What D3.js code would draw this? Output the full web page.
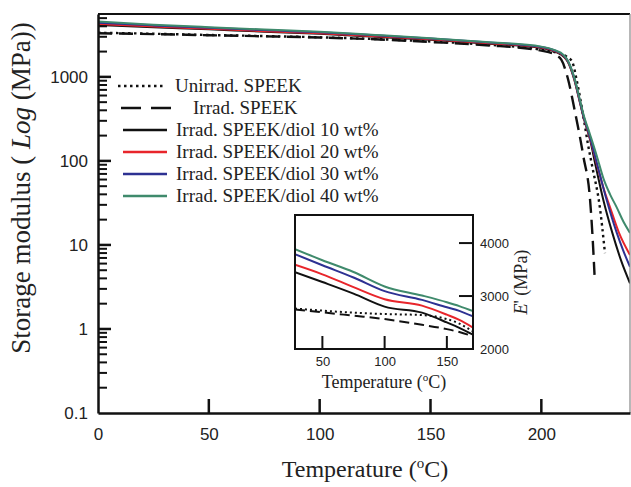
<!DOCTYPE html>
<html>
<head>
  <meta charset="utf-8">
  <script src="https://d3js.org/d3.v7.min.js"></script>
  <style>
    body { margin: 0; background: #fff; }
  </style>
</head>
<body>
  <div id="my_dataviz"></div>

  <script>
    // ---- data: [temperature (C), storage modulus (MPa)] ----
    var unirrad = [[0,3350],[25,3260],[50,3150],[75,3060],[100,2960],[125,2820],[150,2640],[175,2420],[200,2100],[208,1900],[212,1700],[214,1500],[216,900],[219,333],[221,160],[223,85],[226.4,28],[228.7,8]];
    var irrad = [[0,3300],[25,3230],[50,3130],[75,3040],[100,2940],[125,2800],[150,2600],[175,2380],[200,2050],[206,1850],[209,1600],[212,950],[215,405],[219,112],[222,34],[223,14],[224,4.4]];
    var diol10 = [[0,4150],[25,3900],[50,3680],[75,3450],[100,3250],[125,3000],[150,2760],[175,2500],[200,2200],[206,2000],[210,1750],[212,1500],[214,1100],[215,900],[217,550],[219,333],[222,178],[224.6,85],[228,34],[232,14],[236,6.5],[240,3.5]];
    var diol20 = [[0,4250],[25,3970],[50,3740],[75,3500],[100,3300],[125,3040],[150,2800],[175,2530],[200,2230],[206,2030],[210,1780],[212,1520],[214,1120],[215,920],[217,560],[219,340],[222,185],[225,92],[228,48],[231,28],[235,14],[240,7.6]];
    var diol30 = [[0,4400],[25,4100],[50,3830],[75,3600],[100,3400],[125,3120],[150,2860],[175,2580],[200,2270],[206,2060],[210,1800],[212,1540],[214,1140],[215,940],[217,570],[219,345],[222,190],[225,95],[229,38],[234,14],[237,8.5],[240,5.5]];
    var diol40 = [[0,4550],[25,4180],[50,3900],[75,3660],[100,3450],[125,3160],[150,2880],[175,2600],[200,2290],[206,2080],[210,1830],[212,1560],[214,1160],[215,960],[217,590],[219,360],[222,205],[225,115],[228,62],[231,40],[234,28],[237,19],[240,13.9]];

    // inset (linear scale, 30-170 C)
    var insetUnirrad = [[28,2765],[50,2724],[75,2686],[100,2660],[130,2641],[150,2565],[160,2480],[171,2330]];
    var insetIrrad = [[28,2745],[50,2692],[75,2629],[100,2565],[130,2457],[150,2375],[160,2320],[171,2240]];
    var insetDiol10 = [[28,3450],[50,3264],[75,3045],[100,2800],[130,2686],[150,2502],[160,2400],[171,2270]];
    var insetDiol20 = [[28,3590],[50,3410],[75,3168],[100,2940],[130,2819],[150,2648],[160,2550],[171,2405]];
    var insetDiol30 = [[28,3790],[50,3581],[75,3350],[100,3092],[130,2927],[150,2787],[160,2720],[171,2615]];
    var insetDiol40 = [[28,3885],[50,3676],[75,3453],[100,3181],[130,3010],[150,2883],[160,2810],[171,2715]];

    var labels = ["Unirrad. SPEEK", "Irrad. SPEEK", "Irrad. SPEEK/diol 10 wt%", "Irrad. SPEEK/diol 20 wt%", "Irrad. SPEEK/diol 30 wt%", "Irrad. SPEEK/diol 40 wt%"];
    var colors = ["#111", "#111", "#111", "#e8252b", "#2d3192", "#3f8a6c"];
    var dashes = ["2.5,3.5", "14,7", null, null, null, null];

    var xTicks = [0, 50, 100, 150, 200];
    var yTicks = [0.1, 1, 10, 100, 1000];
    var yMinor = [0.2,0.3,0.4,0.5,0.6,0.7,0.8,0.9, 2,3,4,5,6,7,8,9, 20,30,40,50,60,70,80,90, 200,300,400,500,600,700,800,900, 2000,3000,4000,5000];
    var insetXTicks = [50, 100, 150];
    var insetYTicks = [2000, 3000, 4000];

    var mainSeries = [unirrad, irrad, diol10, diol20, diol30, diol40];
    var insetSeries = [insetUnirrad, insetIrrad, insetDiol10, insetDiol20, insetDiol30, insetDiol40];

    var serif = "'Liberation Serif', 'Times New Roman', serif";
    var sans = "'Liberation Sans', Arial, sans-serif";

    var svg = d3.select("#my_dataviz").append("svg")
      .attr("width", 631).attr("height", 487);

    // main plot area
    var pL = 98, pR = 630, pT = 14, pB = 413;

    var x = d3.scaleLinear().domain([0, 240]).range([pL, pR]);
    var y = d3.scaleLog().domain([0.1, 5600]).range([pB, pT]);

    svg.append("clipPath").attr("id", "clipMain")
      .append("rect").attr("x", pL).attr("y", pT).attr("width", pR - pL).attr("height", pB - pT);

    var mainLine = d3.line()
      .x(function(d) { return x(d[0]); })
      .y(function(d) { return y(d[1]); })
      .curve(d3.curveMonotoneX);

    var gLines = svg.append("g").attr("clip-path", "url(#clipMain)");
    mainSeries.forEach(function(s, i) {
      gLines.append("path")
        .datum(s)
        .attr("d", mainLine)
        .attr("fill", "none")
        .attr("stroke", colors[i])
        .attr("stroke-width", i < 2 ? 2.4 : 2)
        .attr("stroke-dasharray", dashes[i]);
    });

    // frame
    svg.append("line").attr("x1", pL).attr("x2", pR).attr("y1", pT).attr("y2", pT)
      .attr("stroke", "#111").attr("stroke-width", 2);
    svg.append("line").attr("x1", pR).attr("x2", pR).attr("y1", pT).attr("y2", pB)
      .attr("stroke", "#888").attr("stroke-width", 1.2);

    // X axis labels
    svg.append("g")
      .attr("transform", "translate(0," + pB + ")")
      .call(d3.axisBottom(x).tickValues(xTicks).tickSize(0).tickPadding(15))
      .call(function(g) {
        g.select(".domain").attr("stroke", "#111").attr("stroke-width", 2.5);
        g.selectAll(".tick text").attr("font-family", sans).attr("font-size", 17).attr("fill", "#222");
      });

    // Y axis labels (log)
    svg.append("g")
      .attr("transform", "translate(" + pL + ",0)")
      .call(d3.axisLeft(y).tickValues(yTicks).tickSize(0).tickPadding(10)
        .tickFormat(function(d) { return d < 1 ? "0.1" : d3.format("d")(d); }))
      .call(function(g) {
        g.select(".domain").attr("stroke", "#111").attr("stroke-width", 2.5);
        g.selectAll(".tick text").attr("font-family", sans).attr("font-size", 17).attr("fill", "#222");
      });

    // axis titles
    var xl = svg.append("text")
      .attr("x", 365).attr("y", 477)
      .attr("text-anchor", "middle")
      .attr("font-family", serif).attr("font-size", 24).attr("fill", "#222");
    xl.append("tspan").text("Temperature (");
    xl.append("tspan").attr("dy", -9).attr("font-size", 15).text("o");
    xl.append("tspan").attr("dy", 9).text("C)");

    var yl = svg.append("text")
      .attr("transform", "translate(30,188) rotate(-90)")
      .attr("text-anchor", "middle")
      .attr("font-family", serif).attr("font-size", 27).attr("fill", "#222");
    yl.append("tspan").text("Storage modulus ( ");
    yl.append("tspan").attr("font-style", "italic").text("Log");
    yl.append("tspan").text(" (MPa))");

    // legend
    var legX = [[118, 163], [121, 172], [123, 167], [123, 167], [123, 167], [123, 167]];
    var legTextX = [175, 193, 176, 176, 176, 176];
    labels.forEach(function(lab, i) {
      var ly = 86 + i * 22;
      svg.append("line")
        .attr("x1", legX[i][0]).attr("x2", legX[i][1]).attr("y1", ly).attr("y2", ly)
        .attr("stroke", colors[i]).attr("stroke-width", i < 2 ? 2.6 : 2.4)
        .attr("stroke-dasharray", i === 0 ? "2.5,3.5" : (i === 1 ? "20,10" : null));
      svg.append("text")
        .attr("x", legTextX[i]).attr("y", ly + 6)
        .attr("font-family", serif).attr("font-size", 19).attr("fill", "#222")
        .text(lab);
    });

    // ---- inset ----
    var iL = 295, iR = 473, iT = 215, iB = 349;
    var xi = d3.scaleLinear().domain([28, 171]).range([iL, iR]);
    var yi = d3.scaleLinear().domain([2000, 4530]).range([iB, iT]);

    svg.append("rect").attr("x", iL).attr("y", iT).attr("width", iR - iL).attr("height", iB - iT)
      .attr("fill", "#fff");

    svg.append("clipPath").attr("id", "clipInset")
      .append("rect").attr("x", iL).attr("y", iT).attr("width", iR - iL).attr("height", iB - iT);

    var insetLine = d3.line()
      .x(function(d) { return xi(d[0]); })
      .y(function(d) { return yi(d[1]); })
      .curve(d3.curveMonotoneX);

    var gInset = svg.append("g").attr("clip-path", "url(#clipInset)");
    insetSeries.forEach(function(s, i) {
      gInset.append("path")
        .datum(s)
        .attr("d", insetLine)
        .attr("fill", "none")
        .attr("stroke", colors[i])
        .attr("stroke-width", 2)
        .attr("stroke-dasharray", i === 0 ? "2,3" : (i === 1 ? "10,5" : null));
    });

    svg.append("rect").attr("x", iL).attr("y", iT).attr("width", iR - iL).attr("height", iB - iT)
      .attr("fill", "none").attr("stroke", "#111").attr("stroke-width", 2);

    svg.append("g")
      .attr("transform", "translate(0," + iB + ")")
      .call(d3.axisBottom(xi).tickValues(insetXTicks).tickSize(0).tickPadding(8))
      .call(function(g) {
        g.select(".domain").remove();
        g.selectAll(".tick text").attr("font-family", sans).attr("font-size", 13).attr("fill", "#222");
      });

    svg.append("g")
      .attr("transform", "translate(" + iR + ",0)")
      .call(d3.axisRight(yi).tickValues(insetYTicks).tickSize(0).tickPadding(7)
        .tickFormat(d3.format("d")))
      .call(function(g) {
        g.select(".domain").remove();
        g.selectAll(".tick text").attr("font-family", sans).attr("font-size", 13).attr("fill", "#222");
      });

    var ixl = svg.append("text")
      .attr("x", 384).attr("y", 388)
      .attr("text-anchor", "middle")
      .attr("font-family", serif).attr("font-size", 18).attr("fill", "#222");
    ixl.append("tspan").text("Temperature (");
    ixl.append("tspan").attr("dy", -7).attr("font-size", 11).text("o");
    ixl.append("tspan").attr("dy", 7).text("C)");

    var iyl = svg.append("text")
      .attr("transform", "translate(527,282) rotate(-90)")
      .attr("text-anchor", "middle")
      .attr("font-family", serif).attr("font-size", 18).attr("fill", "#222");
    iyl.append("tspan").attr("font-style", "italic").text("E");
    iyl.append("tspan").text("' (MPa)");

    // ---- inward tick marks, drawn last ----
    var gTicks = svg.append("g");
    gTicks.selectAll(".xt").data(xTicks.slice(1)).enter().append("line").attr("class", "xt")
      .attr("x1", function(d) { return x(d); }).attr("x2", function(d) { return x(d); })
      .attr("y1", pB).attr("y2", pB - 14)
      .attr("stroke", "#111").attr("stroke-width", 2.5);
    gTicks.selectAll(".yt").data(yTicks.slice(1)).enter().append("line").attr("class", "yt")
      .attr("x1", pL).attr("x2", pL + 13)
      .attr("y1", function(d) { return y(d); }).attr("y2", function(d) { return y(d); })
      .attr("stroke", "#111").attr("stroke-width", 2.5);
    gTicks.selectAll(".ym").data(yMinor).enter().append("line").attr("class", "ym")
      .attr("x1", pL).attr("x2", pL + 9)
      .attr("y1", function(d) { return y(d); }).attr("y2", function(d) { return y(d); })
      .attr("stroke", "#111").attr("stroke-width", 2);
    gTicks.selectAll(".ixt").data(insetXTicks).enter().append("line").attr("class", "ixt")
      .attr("x1", function(d) { return xi(d); }).attr("x2", function(d) { return xi(d); })
      .attr("y1", iB).attr("y2", iB - 13)
      .attr("stroke", "#111").attr("stroke-width", 2);
    gTicks.selectAll(".iyt").data(insetYTicks.slice(1)).enter().append("line").attr("class", "iyt")
      .attr("x1", iR).attr("x2", iR - 14)
      .attr("y1", function(d) { return yi(d); }).attr("y2", function(d) { return yi(d); })
      .attr("stroke", "#111").attr("stroke-width", 2);
  </script>
</body>
</html>
